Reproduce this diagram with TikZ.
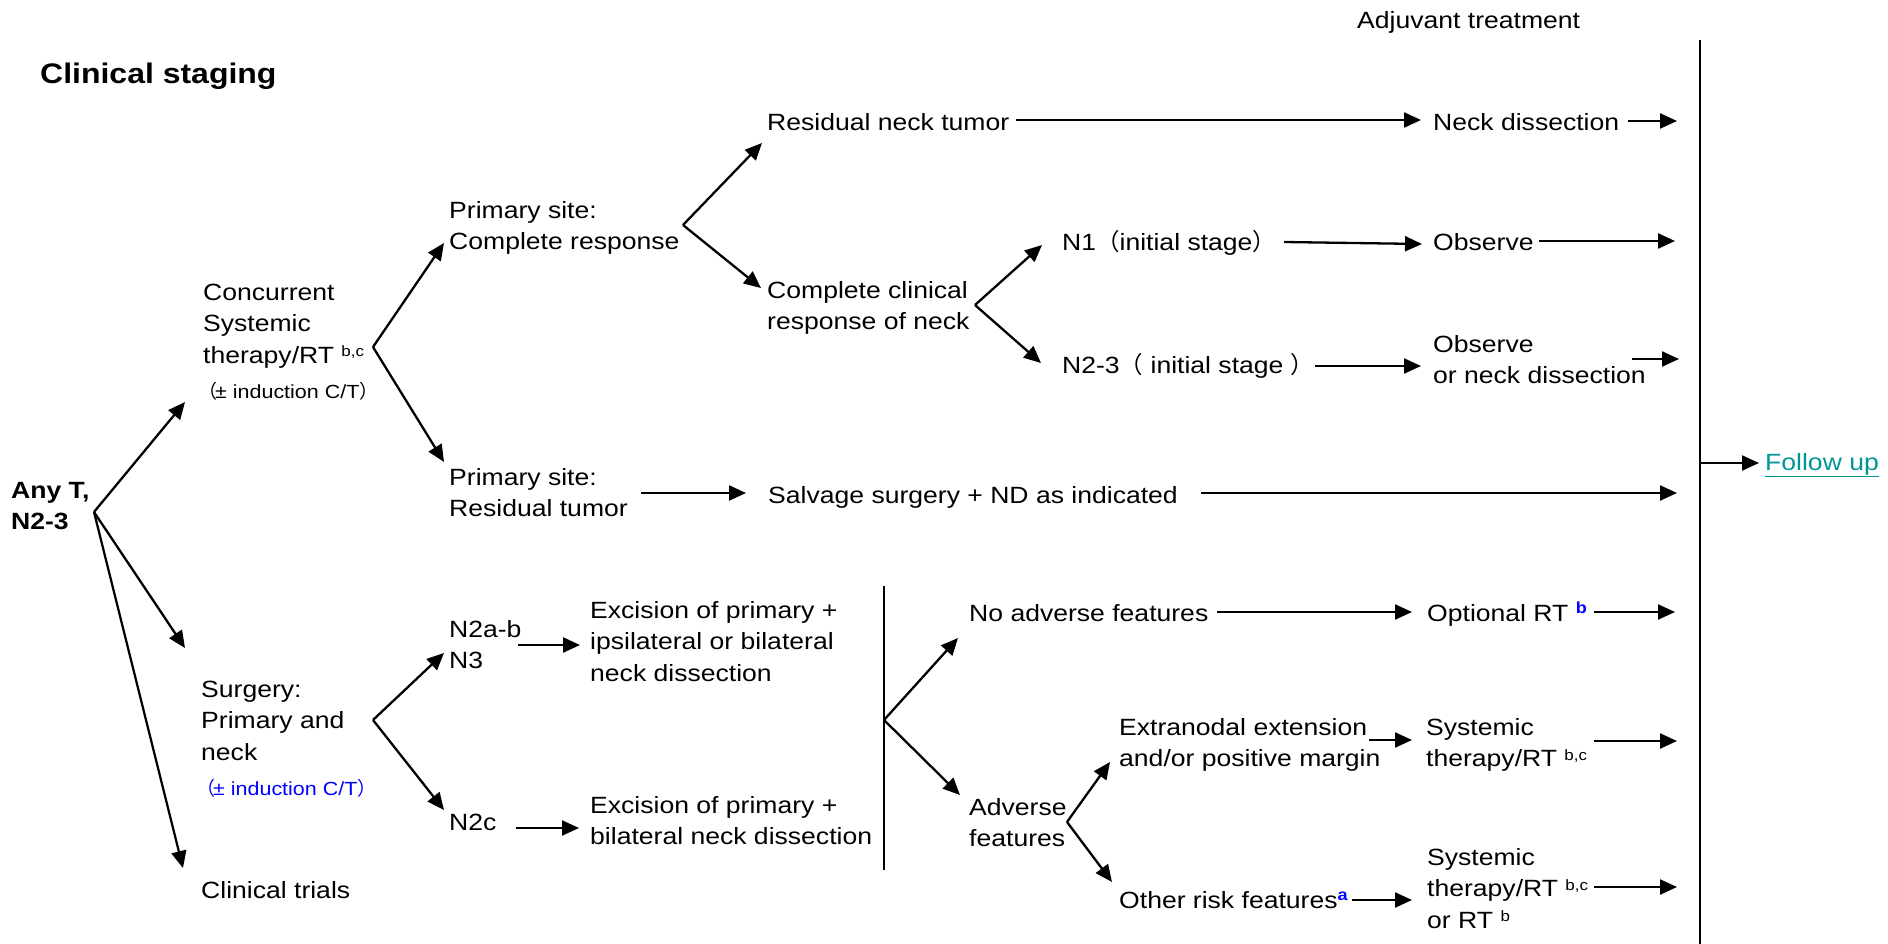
\documentclass[tikz,border=0pt]{standalone}
\usepackage{fontspec}
\setmainfont[FakeStretch=1.13]{Liberation Sans}
\newfontfamily\cjk{Noto Sans CJK SC}
\usetikzlibrary{arrows.meta}
\definecolor{refblue}{RGB}{0,0,255}
\definecolor{linkteal}{RGB}{0,150,150}
\newcommand\bodyfont{\fontsize{23.5}{31.5}\selectfont}
\newcommand\smallfont{\fontsize{19}{31.5}\selectfont}
\newcommand\titlefont{\fontsize{28.3}{31.5}\selectfont\bfseries}
\newcommand\supr[1]{\raisebox{6.5pt}{\fontsize{15}{15}\selectfont #1}}
\newcommand\supb[1]{\raisebox{8pt}{\fontsize{16}{16}\selectfont\bfseries\color{refblue}#1}}
\newcommand\fwlp{{\cjk （}}
\newcommand\fwrp{{\cjk ）}}
\begin{document}
\begin{tikzpicture}[x=1pt,y=-1pt,
  lbl/.style={anchor=north west, inner sep=0pt, align=left, yshift=22.05pt, font=\bodyfont},
  arr/.style={line width=2.3pt, -{Triangle[length=17pt,width=15pt]}},
  bar/.style={line width=2.6pt},
  sepline/.style={line width=1.7pt}]
\useasboundingbox (0,0) rectangle (1888,944);

% ---- headings ----
\node[lbl, font=\titlefont] (title) at (40,83) {\strut Clinical staging};
\node[lbl] (adj) at (1357,28) {\strut Adjuvant treatment};

% ---- first column ----
\node[lbl, font=\bodyfont\bfseries] (anyt) at (11,498) {\strut Any T,\\N2-3};
\node[lbl] (cc) at (203,300) {\strut Concurrent\\Systemic\\therapy/RT \supr{b,c}};
\node[lbl, font=\smallfont] (ccind) at (198,398) {\strut\fwlp\kern-2pt ± induction C/T\fwrp};
\node[lbl] (surg) at (201,697) {\strut Surgery:\\Primary and\\neck};
\node[lbl, font=\smallfont, text=refblue] (surgind) at (196,795) {\strut\fwlp\kern-2pt ± induction C/T\fwrp};
\node[lbl] (trials) at (201,898) {\strut Clinical trials};

% ---- concurrent therapy branch ----
\node[lbl] (pcr) at (449,218) {\strut Primary site:\\Complete response};
\node[lbl] (prt) at (449,485) {\strut Primary site:\\Residual tumor};
\node[lbl] (rnt) at (767,130) {\strut Residual neck tumor};
\node[lbl] (ccrn) at (767,298) {\strut Complete clinical\\response of neck};
\node[lbl] (n1) at (1062,250) {\strut N1\fwlp initial stage\fwrp};
\node[lbl] (n23) at (1062,373) {\strut N2-3\fwlp\ initial stage \fwrp};
\node[lbl] (nd) at (1433,130) {\strut Neck dissection};
\node[lbl] (obs) at (1433,250) {\strut Observe};
\node[lbl] (obsnd) at (1433,352) {\strut Observe\\or neck dissection};
\node[lbl] (salv) at (768,503) {\strut Salvage surgery + ND as indicated};

% ---- surgery branch ----
\node[lbl] (n2ab) at (449,637) {\strut N2a-b\\N3};
\node[lbl] (n2c) at (449,830) {\strut N2c};
\node[lbl] (exc1) at (590,618) {\strut Excision of primary +\\ipsilateral or bilateral\\neck dissection};
\node[lbl] (exc2) at (590,813) {\strut Excision of primary +\\bilateral neck dissection};
\node[lbl] (noadv) at (969,621) {\strut No adverse features};
\node[lbl] (adv) at (969,815) {\strut Adverse\\features};
\node[lbl] (ene) at (1119,735) {\strut Extranodal extension\\and/or positive margin};
\node[lbl] (orf) at (1119,908) {\strut Other risk features\supb{a}};
\node[lbl] (optrt) at (1427,621) {\strut Optional RT \supb{b}};
\node[lbl] (sys1) at (1426,735) {\strut Systemic\\therapy/RT \supr{b,c}};
\node[lbl] (sys2) at (1427,865) {\strut Systemic\\therapy/RT \supr{b,c}\\or RT \supr{b}};
\node[lbl, text=linkteal] (fu) at (1765,470) {\strut\underline{Follow up}};

% ---- branch points and arrow ends ----
\coordinate (fA) at (94,512);
\coordinate (tCC) at (185,402);
\coordinate (tSU) at (185,648);
\coordinate (tCT) at (183,868);
\coordinate (fCC) at (373,347);
\coordinate (tPCR) at (444,243);
\coordinate (tPRT) at (444,462);
\coordinate (fPCR) at (683,225);
\coordinate (tRNT) at (762,143);
\coordinate (tCCRN) at (761,288);
\coordinate (fCCRN) at (975,305);
\coordinate (tN1) at (1042,245);
\coordinate (tN23) at (1041,363);
\coordinate (fSU) at (373,720);
\coordinate (tN2ab) at (444,653);
\coordinate (tN2c) at (444,810);
\coordinate (fEX) at (884,720);
\coordinate (tNoAdv) at (958,638);
\coordinate (tAdv) at (960,795);
\coordinate (fAdv) at (1067,822);
\coordinate (tENE) at (1110,762);
\coordinate (tORF) at (1112,882);
\coordinate (sepTop) at (884,586);
\coordinate (sepBot) at (884,870);
\coordinate (barTop) at (1700,40);
\coordinate (barBot) at (1700,944);
\coordinate (barFU) at (1700,463);
\coordinate (tFU) at (1759,463);

% ---- diagonal branches ----
\draw[arr] (fA) -- (tCC);
\draw[arr] (fA) -- (tSU);
\draw[arr] (fA) -- (tCT);
\draw[arr] (fCC) -- (tPCR);
\draw[arr] (fCC) -- (tPRT);
\draw[arr] (fPCR) -- (tRNT);
\draw[arr] (fPCR) -- (tCCRN);
\draw[arr] (fCCRN) -- (tN1);
\draw[arr] (fCCRN) -- (tN23);
\draw[arr] (fSU) -- (tN2ab);
\draw[arr] (fSU) -- (tN2c);
\draw[arr] (fEX) -- (tNoAdv);
\draw[arr] (fEX) -- (tAdv);
\draw[arr] (fAdv) -- (tENE);
\draw[arr] (fAdv) -- (tORF);

% ---- horizontal arrows ----
\draw[arr] (1016,120) coordinate (rntR) -- (1421,120) coordinate (ndL);
\draw[arr] (1628,121) coordinate (ndR) -- (1677,121) coordinate (ndE);
\draw[arr] (1284,242) coordinate (n1R) -- (1422,244) coordinate (obsL);
\draw[arr] (1539,241) coordinate (obsR) -- (1675,241) coordinate (obsE);
\draw[arr] (1315,366) coordinate (n23R) -- (1421,366) coordinate (obsndL);
\draw[arr] (1632,359) coordinate (obsndR) -- (1679,359) coordinate (obsndE);
\draw[arr] (641,493) coordinate (prtR) -- (746,493) coordinate (salvL);
\draw[arr] (1201,493) coordinate (salvR) -- (1677,493) coordinate (salvE);
\draw[arr] (518,645) coordinate (n2abR) -- (580,645) coordinate (exc1L);
\draw[arr] (516,828) coordinate (n2cR) -- (579,828) coordinate (exc2L);
\draw[arr] (1217,612) coordinate (noadvR) -- (1412,612) coordinate (optrtL);
\draw[arr] (1594,612) coordinate (optrtR) -- (1675,612) coordinate (optrtE);
\draw[arr] (1369,740) coordinate (eneR) -- (1412,740) coordinate (sys1L);
\draw[arr] (1594,741) coordinate (sys1R) -- (1677,741) coordinate (sys1E);
\draw[arr] (1352,900) coordinate (orfR) -- (1412,900) coordinate (sys2L);
\draw[arr] (1594,887) coordinate (sys2R) -- (1677,887) coordinate (sys2E);

% ---- separators and follow-up ----
\draw[sepline] (sepTop) -- (sepBot);
\draw[bar] (barTop) -- (barBot);
\draw[arr] (barFU) -- (tFU);
\end{tikzpicture}
\end{document}
